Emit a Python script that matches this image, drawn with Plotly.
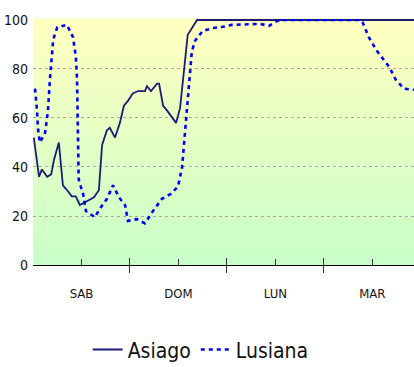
import plotly.graph_objects as go

# Relative humidity (%) over four days, hourly-ish readings
day_labels = ["SAB", "DOM", "LUN", "MAR"]
day_centers = [12, 36, 60, 84]
day_bounds = [0, 24, 48, 72, 96]

asiago_hours = [0.2, 1.5, 2.2, 3.5, 4.5, 5.2, 6.4, 7.4, 8.7, 9.6, 10.6, 11.6, 12.9, 15.1,
                16.3, 17.1, 18.3, 19.0, 20.3, 21.5, 22.5, 23.5, 24.7, 26.0, 27.7, 28.2,
                29.2, 30.7, 31.2, 32.2, 33.2, 34.4, 35.4, 36.4, 37.4, 38.3, 40.6, 60.0, 94.3]
asiago = [52, 36, 39, 36, 37, 43, 50, 32.5, 30, 28, 28, 24.5, 25.6, 27.6,
          30.5, 49, 55, 56, 52, 58, 65, 67, 70, 71, 71, 73,
          71, 74, 74, 65, 63, 60, 58, 64, 80.5, 94, 100, 100, 100]

lusiana_hours = [0.5, 1.0, 1.2, 1.7, 3.0, 3.7, 4.2, 4.7, 5.0, 6.0, 8.4, 9.9, 10.6, 10.9,
                 11.1, 11.3, 12.1, 12.4, 13.1, 15.3, 16.8, 18.3, 19.8, 21.3, 22.8, 23.5,
                 25.7, 27.7, 29.7, 31.9, 34.1, 35.9, 36.9, 37.6, 38.1, 38.6, 39.3, 40.1,
                 42.0, 44.5, 47.0, 49.2, 53.7, 56.2, 58.4, 60.4, 62.3, 80.9, 81.6, 83.1,
                 85.1, 86.8, 88.1, 89.8, 91.8, 94.3]
lusiana = [72, 63, 56, 50, 54, 63, 76, 85, 92, 97, 98, 93, 85, 76,
           55, 35, 30.5, 29, 22, 19.5, 23.6, 27, 32.5, 27.6, 24.4, 18,
           18.7, 17, 22, 27, 29, 32, 40, 54, 63, 76, 87, 91.5,
           95.5, 96.7, 97.2, 98, 98.4, 98.4, 97.6, 99.6, 100, 100, 99, 93,
           87.4, 84, 81, 75.6, 72, 71.5]

narrow = "DejaVu Sans Condensed, Liberation Sans Narrow, sans-serif"

fig = go.Figure()
fig.add_trace(go.Scatter(x=asiago_hours, y=asiago, name="Asiago", mode="lines",
                         line=dict(color="#1c1c78", width=1.8)))
fig.add_trace(go.Scatter(x=lusiana_hours, y=lusiana, name="Lusiana", mode="lines",
                         line=dict(color="#0000ff", width=2.6, dash="4px,4px")))

# yellow-to-green vertical gradient behind the plot
top = (255, 255, 192)
bottom = (200, 255, 200)
n = 60
for i in range(n):
    t = i / n
    c = tuple(round(bottom[k] + (top[k] - bottom[k]) * (t + 0.5 / n)) for k in range(3))
    fig.add_shape(type="rect", xref="paper", yref="paper", x0=0, x1=1,
                  y0=t, y1=(i + 1) / n + 0.002, line_width=0,
                  fillcolor="rgb(%d,%d,%d)" % c, layer="below")

fig.update_layout(
    width=414, height=367,
    margin=dict(l=33, r=0, t=19, b=102, autoexpand=False),
    paper_bgcolor="white",
    plot_bgcolor="rgba(0,0,0,0)",
    showlegend=True,
    legend=dict(orientation="h", x=0.44, xanchor="center", y=-0.345, yanchor="middle",
                font=dict(family=narrow, size=21, color="#111"),
                bgcolor="rgba(0,0,0,0)", itemwidth=30),
    xaxis=dict(range=[0, 94.3], tickvals=day_centers, ticktext=day_labels,
               ticks="inside", ticklen=6, tickcolor="#333", tickwidth=1,
               ticklabelstandoff=16,
               minor=dict(tickvals=day_bounds, ticks="outside", ticklen=7,
                          tickcolor="#333", tickwidth=1.2),
               showline=True, linecolor="black", linewidth=1.2,
               showgrid=False, zeroline=False,
               tickfont=dict(family=narrow, size=13, color="#111")),
    xaxis2=dict(range=[0, 94.3], overlaying="x", matches="x", tickvals=day_bounds,
                ticks="inside", ticklen=7, tickcolor="#333", tickwidth=1.2,
                showticklabels=False, showgrid=False, zeroline=False, side="bottom"),
    yaxis=dict(range=[0, 100.4], tickvals=[0, 20, 40, 60, 80, 100],
               showgrid=True, gridcolor="#a8a8a8", griddash="3px,3px", gridwidth=1,
               zeroline=False, showline=False, ticks="", ticklabelstandoff=4,
               tickfont=dict(family=narrow, size=14, color="#111")),
)
# invisible trace to bring up the overlay axis carrying the day boundary ticks
fig.add_trace(go.Scatter(x=[0], y=[0], xaxis="x2", mode="markers",
                         marker=dict(opacity=0), showlegend=False, hoverinfo="skip"))

fig.write_html("out.html")
